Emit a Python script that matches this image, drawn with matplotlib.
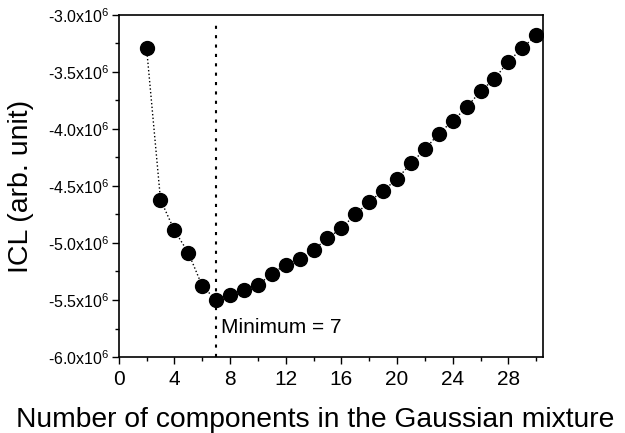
import numpy as np
import matplotlib
matplotlib.use("Agg")
import matplotlib.pyplot as plt
from matplotlib.ticker import MultipleLocator, FuncFormatter

plt.rcParams['font.family'] = ['Liberation Sans', 'DejaVu Sans']
plt.rcParams['mathtext.fontset'] = 'custom'
plt.rcParams['mathtext.rm'] = 'Liberation Sans'
plt.rcParams['mathtext.it'] = 'Liberation Sans'

# ICL vs number of components (values in units of 1e6)
n_comp = [2, 3, 4, 5, 6, 7, 8, 9, 10, 11, 12, 13, 14, 15, 16, 17, 18, 19, 20,
          21, 22, 23, 24, 25, 26, 27, 28, 29, 30]
icl = [-3.29, -4.62, -4.89, -5.085, -5.377, -5.50, -5.456, -5.41, -5.37, -5.27,
       -5.19, -5.14, -5.06, -4.96, -4.87, -4.75, -4.64, -4.54, -4.44, -4.30,
       -4.18, -4.04, -3.93, -3.81, -3.67, -3.56, -3.41, -3.29, -3.18]
best_n = 7

fig = plt.figure(figsize=(6.25, 4.33), dpi=100)
ax = fig.add_axes([0.19, 0.1755, 0.679, 0.79])

ax.plot(n_comp, np.array(icl) * 1e6, color='k', linestyle=':', linewidth=1,
        marker='o', markersize=10, markerfacecolor='k', markeredgecolor='k')
ax.axvline(best_n, ymax=0.977, color='k', linestyle=(0, (1.5, 3)), linewidth=1.5)
ax.text(best_n + 0.35, -5.74e6, 'Minimum = 7', fontsize=15, va='center', ha='left')

ax.set_xlim(0, 30.5)
ax.set_ylim(-6.0e6, -3.0e6)
ax.xaxis.set_major_locator(MultipleLocator(4))
ax.xaxis.set_minor_locator(MultipleLocator(2))
ax.yaxis.set_major_locator(MultipleLocator(0.5e6))
ax.yaxis.set_minor_locator(MultipleLocator(0.25e6))
ax.yaxis.set_major_formatter(FuncFormatter(lambda v, p: '%.1fx10$^{6}$' % (v / 1e6)))

ax.tick_params(axis='x', which='major', direction='out', length=5, width=1, labelsize=15, pad=4)
ax.tick_params(axis='y', which='major', direction='out', length=5, width=1, labelsize=11.5, pad=2)
ax.tick_params(which='minor', direction='out', length=3, width=1)
for s in ax.spines.values():
    s.set_linewidth(1.2)

ax.set_xlabel('Number of components in the Gaussian mixture', fontsize=20.3, labelpad=13)
ax.xaxis.label.set_x(0.462)
ax.set_ylabel('ICL (arb. unit)', fontsize=20.5, labelpad=10)

fig.savefig('out.png', dpi=100)
